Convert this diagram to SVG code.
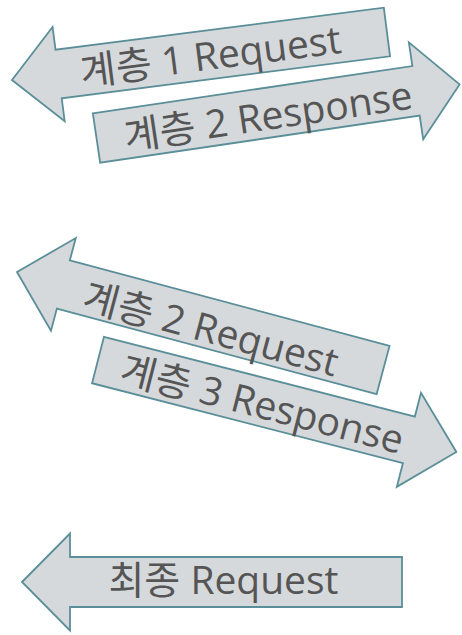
<svg xmlns="http://www.w3.org/2000/svg" width="462" height="635" viewBox="0 0 462 635">
<style>
.arrow{fill:#d6d9db;stroke:#5a8e98;stroke-width:1.8;stroke-linejoin:miter}
.lbl{font-family:"Open Sans","Noto Sans CJK KR",sans-serif;font-size:39px;fill:#555555;text-anchor:middle}
</style>
<rect width="462" height="635" fill="#ffffff"/>
<g id="layer1-request" transform="translate(12,80) rotate(-7.3)">
<polygon class="arrow" points="0,0 47,-47.5 47,-24.5 378,-24.5 378,24.5 47,24.5 47,47.5"/>
<text class="lbl" x="200" y="15">계층 1 Request</text>
</g>
<g id="layer2-response" transform="translate(96.5,138) rotate(-8.4)">
<polygon class="arrow" points="0,-25 323,-25 323,-49 367,0 323,49 323,25 0,25"/>
<text class="lbl" x="173" y="17">계층 2 Response</text>
</g>
<g id="layer2-request" transform="translate(17,272) rotate(15)">
<polygon class="arrow" points="0,0 48,-48 48,-25 379,-25 379,25 48,25 48,48"/>
<text class="lbl" x="202" y="19">계층 2 Request</text>
</g>
<g id="layer3-response" transform="translate(98,360) rotate(14.4)">
<polygon class="arrow" points="0,-24 321,-24 321,-48.5 370,0 321,48.5 321,24 0,24"/>
<text class="lbl" x="170" y="16">계층 3 Response</text>
</g>
<g id="final-request" transform="translate(22,582)">
<polygon class="arrow" points="0,0 48,-48.5 48,-25 380,-25 380,25 48,25 48,48.5"/>
<text class="lbl" x="201.5" y="12">최종 Request</text>
</g>
</svg>
